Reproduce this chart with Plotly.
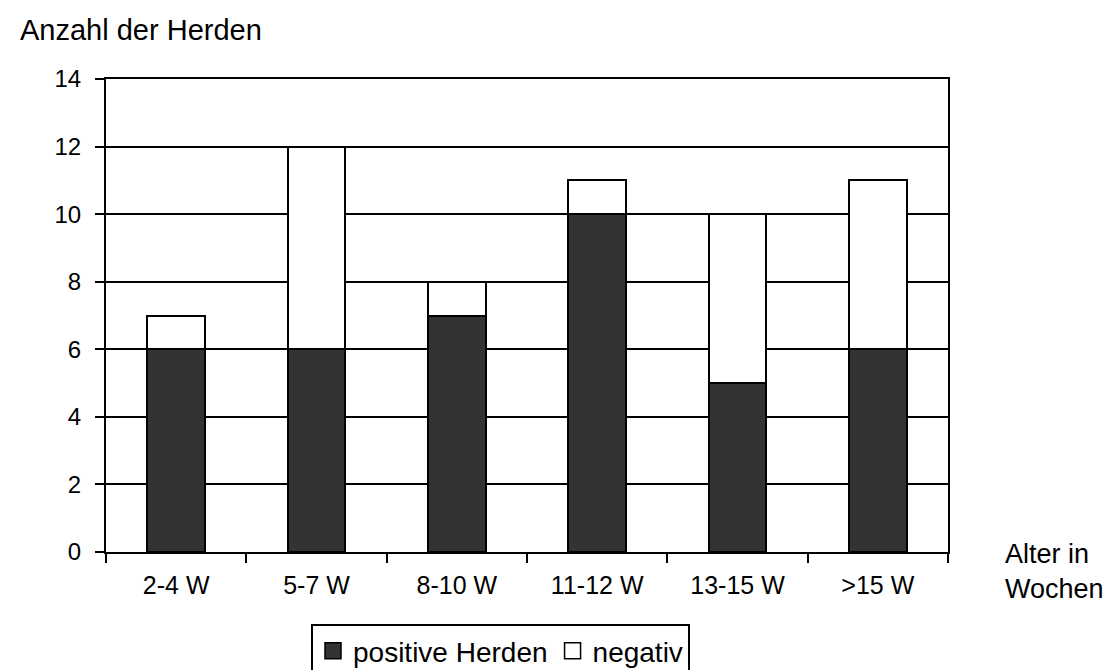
import plotly.graph_objects as go

categories = ["2-4 W", "5-7 W", "8-10 W", "11-12 W", "13-15 W", ">15 W"]
positive = [6, 6, 7, 10, 5, 6]
negativ = [1, 6, 1, 1, 5, 5]
y_ticks = [0, 2, 4, 6, 8, 10, 12, 14]

W, H = 1111, 670
L, R, T, B = 98, 171, 71, 126
PW, PH = W - L - R, H - T - B


def px(x):
    return (x - L) / PW


def py(y):
    return (H - B - y) / PH


FONT = "Liberation Sans, Arial, sans-serif"
DARK = "#333333"

fig = go.Figure()
fig.add_trace(go.Bar(x=categories, y=positive, name="positive Herden", showlegend=False,
                     marker=dict(color=DARK, line=dict(color="black", width=2))))
fig.add_trace(go.Bar(x=categories, y=negativ, name="negativ", showlegend=False,
                     marker=dict(color="white", line=dict(color="black", width=2))))
# legend proxies (larger square symbols like the reference)
fig.add_trace(go.Scatter(x=[None], y=[None], mode="markers", name="positive Herden",
                         marker=dict(symbol="square", size=16, color=DARK,
                                     line=dict(color="black", width=1.5))))
fig.add_trace(go.Scatter(x=[None], y=[None], mode="markers", name="negativ",
                         marker=dict(symbol="square", size=16, color="white",
                                     line=dict(color="black", width=1.5))))

fig.update_layout(
    width=W, height=H,
    margin=dict(l=L, r=R, t=T, b=B, autoexpand=False),
    barmode="stack", bargap=0.59,
    plot_bgcolor="white", paper_bgcolor="white",
    font=dict(family=FONT, color="black", size=25),
    showlegend=True,
    legend=dict(orientation="h", x=px(303), y=py(643), xanchor="left", yanchor="middle",
                bordercolor="black", borderwidth=2, font=dict(size=28),
                itemwidth=30, traceorder="normal", itemsizing="trace"),
    xaxis=dict(type="category", showline=True, linecolor="black", linewidth=2, mirror=True,
               ticks="outside", tickson="boundaries", ticklen=9, tickwidth=2, tickcolor="black",
               tickfont=dict(size=25), showgrid=False, ticklabelstandoff=10),
    yaxis=dict(range=[0, 14], tickvals=y_ticks, showline=True, linecolor="black", linewidth=2,
               mirror=True, ticks="outside", ticklen=9, tickwidth=2, tickcolor="black",
               showgrid=True, gridcolor="black", gridwidth=2, zeroline=False,
               tickfont=dict(size=24), ticklabelstandoff=9),
    annotations=[
        dict(text="Anzahl der Herden", xref="paper", yref="paper", x=px(10), y=py(22),
             xanchor="left", yanchor="middle", showarrow=False, font=dict(size=29)),
        dict(text="Alter in<br>Wochen", xref="paper", yref="paper", x=px(995), y=py(563),
             xanchor="left", yanchor="middle", align="left", showarrow=False,
             font=dict(size=27)),
    ],
)

fig.write_html("out.html")
